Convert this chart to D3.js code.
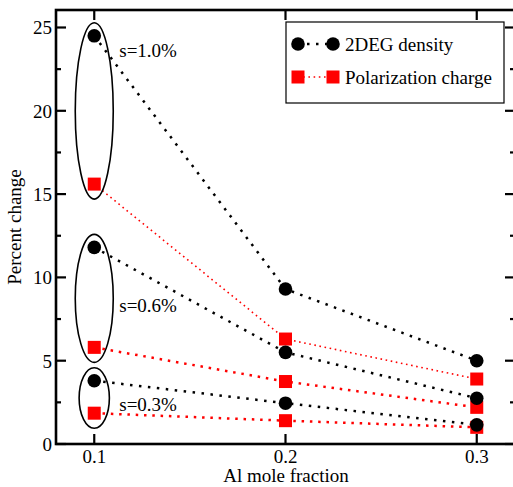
<!DOCTYPE html>
<html>
<head>
<meta charset="utf-8">
<script src="https://cdn.jsdelivr.net/npm/d3@7"></script>
<style>
  html, body { margin: 0; padding: 0; background: #fff; }
  svg { display: block; font-family: "Liberation Serif", "DejaVu Serif", serif; }
</style>
</head>
<body>
<script>
// Al mole fraction and strain groups
const xVals = [0.1, 0.2, 0.3];
const strains = ["s=1.0%", "s=0.6%", "s=0.3%"];
// percent change, one row per strain
const density = [[24.5, 9.3, 5.0], [11.8, 5.5, 2.75], [3.8, 2.45, 1.15]];
const polarization = [[15.6, 6.3, 3.9], [5.8, 3.75, 2.2], [1.85, 1.4, 1.0]];
const labelAt = [23.2, 7.9, 2.0];
const xTicks = [0.1, 0.2, 0.3];
const yTicks = [0, 5, 10, 15, 20, 25];
const yMinor = [2.5, 7.5, 12.5, 17.5, 22.5];
const legendNames = ["2DEG density", "Polarization charge"];

const width = 513, height = 487;
const pL = 56, pR = 515, pT = 10, pB = 444;

const x = d3.scaleLinear().domain([0.08, 0.32]).range([pL, pR]);
const y = d3.scaleLinear().domain([0, 26.05]).range([pB, pT]);

const svg = d3.select("body").append("svg")
    .attr("width", width)
    .attr("height", height)
    .attr("viewBox", [0, 0, width, height]);

// dotted connecting lines
const line = d3.line().x((d, i) => x(xVals[i])).y(d => y(d));

const lineG = svg.append("g").attr("fill", "none");
polarization.forEach((row, k) => {
    lineG.append("path")
        .attr("d", line(row))
        .attr("stroke", "#ff0000")
        .attr("stroke-width", k == 0 ? 1.6 : 2.5)
        .attr("stroke-dasharray", k == 0 ? "1.6,3.6" : "2.5,5.8");
});
density.forEach(row => {
    lineG.append("path")
        .attr("d", line(row))
        .attr("stroke", "#000")
        .attr("stroke-width", 2.5)
        .attr("stroke-dasharray", "2.5,6.5");
});

// markers
const sq = 13;
polarization.forEach(row => {
    svg.append("g").selectAll("rect")
        .data(row)
        .join("rect")
        .attr("x", (d, i) => x(xVals[i]) - sq / 2)
        .attr("y", d => y(d) - sq / 2)
        .attr("width", sq)
        .attr("height", sq)
        .attr("fill", "#ff0000");
});
density.forEach(row => {
    svg.append("g").selectAll("circle")
        .data(row)
        .join("circle")
        .attr("cx", (d, i) => x(xVals[i]))
        .attr("cy", d => y(d))
        .attr("r", 6.8)
        .attr("fill", "#000");
});

// ellipses around the 0.1 points + strain labels
strains.forEach((s, k) => {
    const yTop = y(density[k][0]) - 13;
    const yBot = y(polarization[k][0]) + 15;
    const ry = (yBot - yTop) / 2;
    const rx = Math.min(19, ry / 2);
    svg.append("ellipse")
        .attr("cx", x(xVals[0]))
        .attr("cy", (yTop + yBot) / 2)
        .attr("rx", rx)
        .attr("ry", ry)
        .attr("fill", "none")
        .attr("stroke", "#000")
        .attr("stroke-width", 1.6);
    svg.append("text")
        .attr("x", x(xVals[0]) + 25)
        .attr("y", y(labelAt[k]))
        .attr("font-size", 19)
        .text(s);
});

// frame
svg.append("rect")
    .attr("x", pL).attr("y", pT)
    .attr("width", pR - pL).attr("height", pB - pT)
    .attr("fill", "none").attr("stroke", "#000").attr("stroke-width", 2.6);

// ticks (inward on all four sides)
const tk = svg.append("g").attr("stroke", "#000").attr("stroke-width", 2.2);
xTicks.forEach(t => {
    tk.append("line").attr("x1", x(t)).attr("x2", x(t)).attr("y1", pB).attr("y2", pB - 10);
    tk.append("line").attr("x1", x(t)).attr("x2", x(t)).attr("y1", pT).attr("y2", pT + 10);
});
yTicks.forEach(t => {
    tk.append("line").attr("x1", pL).attr("x2", pL + 10).attr("y1", y(t)).attr("y2", y(t));
    tk.append("line").attr("x1", pR).attr("x2", pR - 10).attr("y1", y(t)).attr("y2", y(t));
});
yMinor.forEach(t => {
    tk.append("line").attr("x1", pL).attr("x2", pL + 5).attr("y1", y(t)).attr("y2", y(t));
    tk.append("line").attr("x1", pR).attr("x2", pR - 5).attr("y1", y(t)).attr("y2", y(t));
});

// tick labels
svg.append("g").selectAll("text")
    .data(xTicks)
    .join("text")
    .attr("x", d => x(d))
    .attr("y", 463)
    .attr("text-anchor", "middle")
    .attr("font-size", 19)
    .text(d => d3.format(".1f")(d));

svg.append("g").selectAll("text")
    .data(yTicks)
    .join("text")
    .attr("x", pL - 4)
    .attr("y", d => y(d) + 7)
    .attr("text-anchor", "end")
    .attr("font-size", 19)
    .text(d => d);

// axis titles
svg.append("text")
    .attr("x", 286)
    .attr("y", 482)
    .attr("text-anchor", "middle")
    .attr("font-size", 19)
    .text("Al mole fraction");

svg.append("text")
    .attr("transform", `translate(21,${(pT + pB) / 2}) rotate(-90)`)
    .attr("text-anchor", "middle")
    .attr("font-size", 19)
    .text("Percent change");

// legend
const lg = svg.append("g").attr("transform", "translate(286,22)");
lg.append("rect")
    .attr("width", 218).attr("height", 81)
    .attr("fill", "#fff").attr("stroke", "#000").attr("stroke-width", 1.2);

const rows = lg.selectAll("g.row")
    .data(legendNames)
    .join("g")
    .attr("class", "row")
    .attr("transform", (d, i) => `translate(0,${22 + i * 33})`);

rows.append("line")
    .attr("x1", 12).attr("x2", 47)
    .attr("stroke", (d, i) => i == 0 ? "#000" : "#ff0000")
    .attr("stroke-width", (d, i) => i == 0 ? 2.5 : 1.6)
    .attr("stroke-dasharray", (d, i) => i == 0 ? "2.5,6.5" : "1.6,3.6");

rows.each(function(d, i) {
    const g = d3.select(this);
    [12, 47].forEach(px => {
        if (i == 0) g.append("circle").attr("cx", px).attr("cy", 0).attr("r", 6.8).attr("fill", "#000");
        else g.append("rect").attr("x", px - 6.5).attr("y", -6.5).attr("width", 13).attr("height", 13).attr("fill", "#ff0000");
    });
});

rows.append("text")
    .attr("x", 59)
    .attr("y", 7)
    .attr("font-size", 19)
    .text(d => d);
</script>
</body>
</html>
